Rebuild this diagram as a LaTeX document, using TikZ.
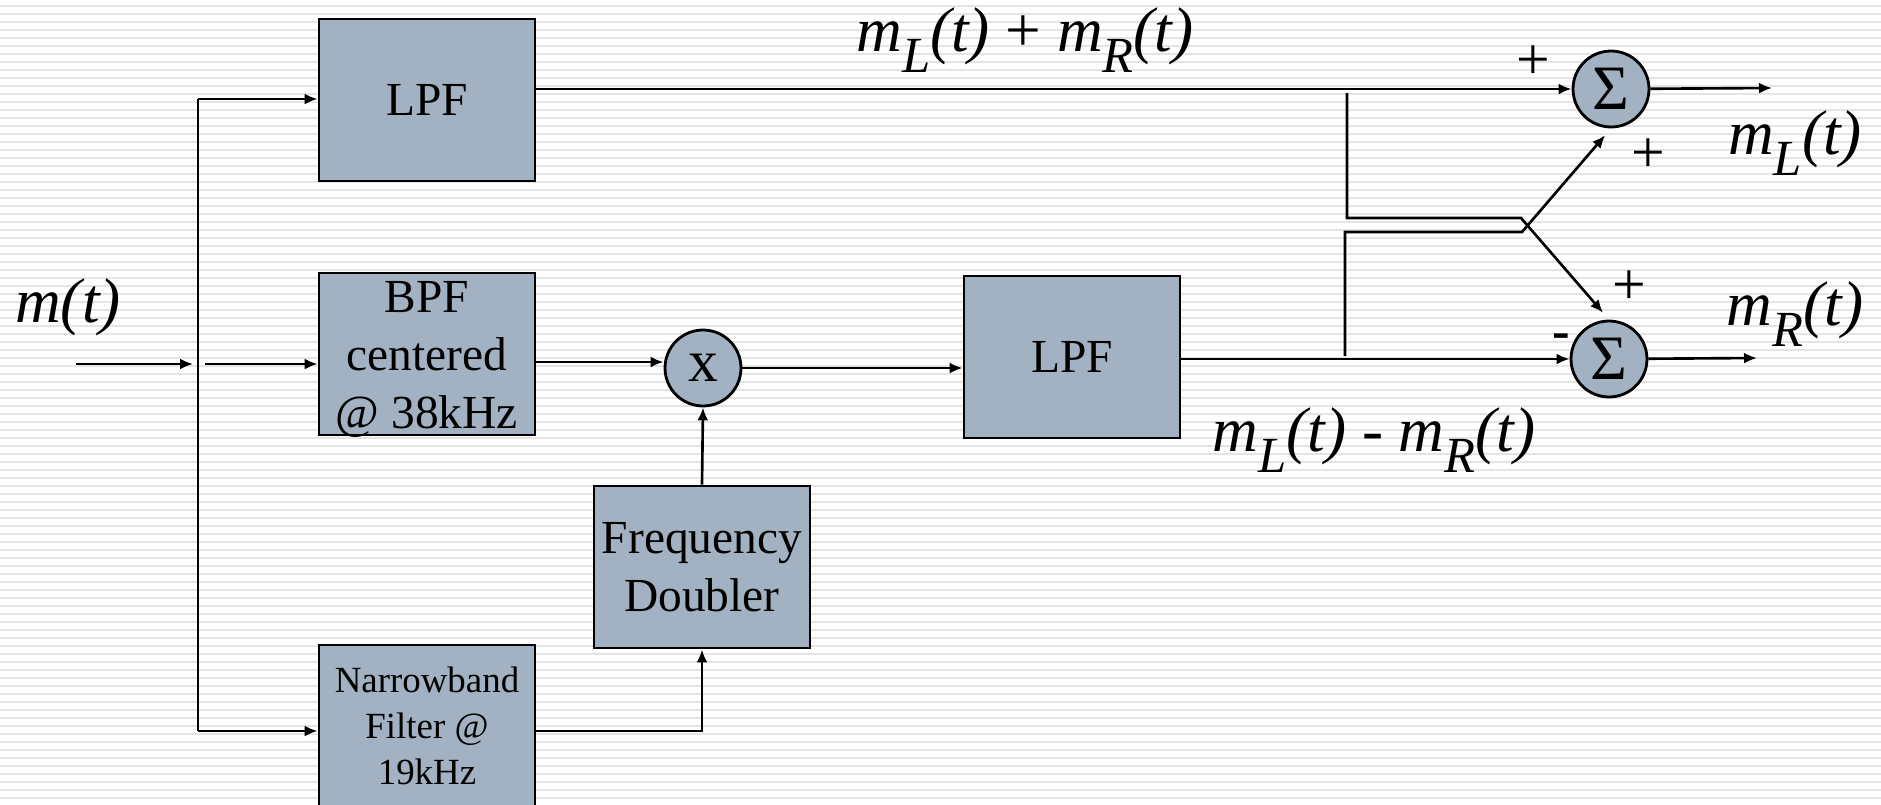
\documentclass[tikz,border=0pt]{standalone}
\usepackage{fontspec}
\setmainfont{Liberation Serif}
\usetikzlibrary{arrows.meta,positioning,calc}
\definecolor{slate}{HTML}{A3B2C2}
\definecolor{stripe}{HTML}{E4E4E4}
\newcommand{\msig}[1]{\textit{m}\raisebox{-0.33em}{\scalebox{0.8}{\textit{#1}}}\textit{(t)}}

\begin{document}
\begin{tikzpicture}[x=0.02cm, y=-0.02cm, every node/.style={font=\fontsize{27}{33}\selectfont}, block/.style={draw, fill=slate, line width=1.6pt, minimum width=4.32cm, minimum height=3.24cm, inner sep=0pt, align=center}, junc/.style={circle, draw, fill=slate, line width=1.6pt, minimum size=1.52cm, inner sep=0pt}, arr/.style={-{Latex[length=2.6mm,width=2.2mm]}, line width=1.5pt}, sig/.style={font=\fontsize{36}{42}\selectfont}, sign/.style={font=\fontsize{34}{34}\selectfont}]
\useasboundingbox (0,0) rectangle (1881,805);
\fill[white] (0,0) rectangle (1881,805);
\foreach \k in {0,...,100} \draw[stripe, line width=0.04cm] (0,{5.5+8*\k}) -- (1881,{5.5+8*\k});
% blocks
\node[block] (lpfa) at (427,100) {LPF};
\node[block, text height=85pt, text depth=0pt] (bpf) at (427,354) {BPF\\centered\\@ 38kHz};
\node[block, font=\fontsize{21}{26}\selectfont] (nbf) at (427,726) {Narrowband\\Filter @\\19kHz};
\node[block] (dbl) at (702,567) {Frequency\\Doubler};
\node[junc, font=\fontsize{34}{34}\selectfont] (mix) at (703,368) {\raisebox{-0.18cm}{x}};
\node[block] (lpfb) at (1072,357) {LPF};
\node[junc, font=\fontsize{36}{36}\selectfont] (sumL) at (1611,89) {Σ};
\node[junc, font=\fontsize{36}{36}\selectfont] (sumR) at (1609,359) {Σ};
% splitter
\coordinate (src) at (76,364);
\coordinate (tap) at (193,364);
\coordinate (bustop) at (198,99);
\coordinate (busbot) at (198,731);
\coordinate (outL) at (1772,88);
\coordinate (outR) at (1757,358);
\coordinate (splitA) at (1347,93);
\coordinate (bendA) at (1521,218);
\coordinate (splitB) at (1345,356);
\coordinate (bendB) at (1522,232);
\draw[arr] (src) -- (tap);
\draw[line width=1.5pt] (bustop) -- (busbot);
\draw[arr] (bustop) -- (lpfa.west |- bustop);
\draw[arr] ($(tap)+(12,0)$) -- (bpf.west |- tap);
\draw[arr] (busbot) -- (nbf.west |- busbot);
% demodulator
\draw[arr] (bpf.east |- 0,362) -- (mix.west |- 0,362);
\draw[arr] (nbf.east |- busbot) -| (dbl.south);
\draw[arr] (dbl.north) -- (mix.south);
\draw[arr] (mix) -- (lpfb.west |- mix);
% matrix
\draw[arr] (lpfa.east |- sumL) -- (sumL);
\draw[arr] (lpfb.east |- sumR) -- (sumR);
\draw[arr] (sumL) -- (outL);
\draw[arr] (sumR) -- (outR);
\draw[arr, shorten >=1.8mm] (splitA) |- (bendA) -- (sumR.north);
\draw[arr, shorten >=1.8mm] (splitB) |- (bendB) -- (sumL.south);
% labels
\node[sig] (lin) at (68,307) {\textit{m(t)}};
\node[sig] (lsum) at (1025,40) {\msig{L} + \msig{R}};
\node[sig] (ldiff) at (1374,440) {\msig{L} - \msig{R}};
\node[sig] (lL) at (1795,143) {\msig{L}};
\node[sig] (lR) at (1795,314) {\msig{R}};
\node[sign] (pA) at (1533,63) {+};
\node[sign] (pB) at (1648,156) {+};
\node[sign] (pC) at (1629,288) {+};
\node[sign, font=\fontsize{30}{30}\selectfont\bfseries] (mC) at (1561,341) {-};
\end{tikzpicture}
\end{document}
